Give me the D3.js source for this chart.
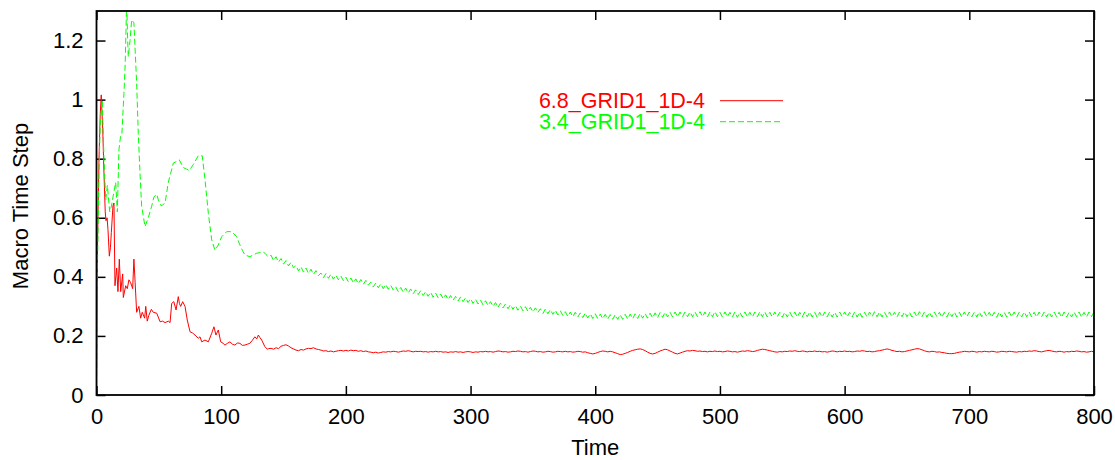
<!DOCTYPE html>
<html>
<head>
<meta charset="utf-8">
<script src="https://cdn.jsdelivr.net/npm/d3@7"></script>
<style>
body { margin: 0; background: #fff; }
text { font-family: "Liberation Sans", Arial, sans-serif; font-size: 22px; fill: #000; }
</style>
</head>
<body>
<svg id="chart"></svg>
<script>
// axis ticks
var xTicks = [0, 100, 200, 300, 400, 500, 600, 700, 800];
var yTicks = [0, 0.2, 0.4, 0.6, 0.8, 1, 1.2];
var yTickLabels = ["0", "0.2", "0.4", "0.6", "0.8", "1", "1.2"];

var seriesNames = ["6.8_GRID1_1D-4", "3.4_GRID1_1D-4"];

// start-up transient, [time, step]
var redEarly = [[0,0],[0.8,0.5],[2,0.8],[3,0.95],[3.8,1.016],[5,0.9],[6,0.75],[7,0.62],[7.6,0.59],[8.5,0.6],[9.2,0.56],
  [10.3,0.47],[11.2,0.5],[11.9,0.55],[13.2,0.64],[14,0.65],[14.8,0.37],[16.2,0.43],[17.2,0.35],[18.3,0.46],[19.4,0.35],
  [21,0.41],[21.5,0.33],[23.4,0.37],[24.7,0.36],[26,0.39],[27.4,0.38],[29,0.36],[30,0.46],[31,0.38],[32.2,0.28],[34,0.3],
  [35.4,0.26],[36.7,0.28],[38.6,0.26],[39.5,0.3],[40.7,0.25],[42,0.27],[44,0.29],[45.5,0.28],[48.3,0.277],[51,0.248],
  [53,0.25],[55,0.245],[57.6,0.25],[59,0.245],[60.3,0.31],[62,0.316],[63.8,0.288],[65.6,0.333],[66.5,0.31],[67.5,0.3],
  [69.1,0.316],[71,0.3],[72.8,0.254],[75,0.214],[77,0.21],[79,0.203],[81.6,0.192],[83,0.197],[84.4,0.18],[87,0.186],
  [89.7,0.18],[92.4,0.209],[94.2,0.231],[95.8,0.203],[97.7,0.22],[99.6,0.18],[101.5,0.175],[103,0.169],[105,0.175],
  [107,0.18],[109,0.172],[111,0.169],[113,0.176],[115,0.175],[117,0.168],[119,0.169],[121,0.172],[123,0.175],[125,0.185],
  [127,0.197],[128.5,0.19],[129.8,0.203],[131,0.195],[132.5,0.186],[135,0.164],[137,0.155],[138,0.157]];

var greenEarly = [[0,0],[0.8,0.45],[2,0.75],[3,0.92],[4.6,1.0],[6,0.8],[7.4,0.66],[8.7,0.71],[10.6,0.62],[12,0.64],
  [13.2,0.67],[15.4,0.72],[16.7,0.62],[18,0.83],[19.4,0.88],[20.4,0.886],[22,1.02],[23,1.12],[24.2,1.33],[25,1.2],
  [25.5,1.145],[26.9,1.2],[28.2,1.27],[30,1.26],[32.2,1.056],[33.5,0.886],[34.9,0.75],[36.2,0.64],[38.9,0.57],[41.5,0.6],
  [44.3,0.64],[46,0.67],[48.3,0.68],[49.6,0.66],[52,0.64],[55,0.65],[57.6,0.72],[61.6,0.785],[64,0.79],[66.4,0.796],
  [69.6,0.77],[72,0.765],[74.4,0.76],[77.6,0.78],[81.6,0.81],[84.8,0.81],[87,0.73],[89.7,0.615],[92.4,0.525],[95,0.49],
  [97.7,0.508],[100.4,0.536],[104.4,0.553],[108.4,0.553],[112.4,0.536],[115,0.508],[117,0.49],[119,0.474],[123,0.468],
  [126,0.475],[128.5,0.48],[131,0.482],[133.8,0.485],[136,0.475],[137.8,0.468]];

// steady part, one value every 2 time units from t=140 to t=800
var tailStart = 140, tailStep = 2;

var redTail = [
  .158,.155,.160,.157,.165,.168,.170,.166,.160,.156,
  .152,.150,.154,.152,.156,.158,.157,.160,.156,.154,
  .152,.149,.150,.147,.149,.146,.148,.150,.151,.149,
  .151,.149,.152,.150,.151,.148,.150,.147,.149,.146,
  .145,.143,.145,.142,.144,.146,.145,.147,.146,.148,
  .147,.145,.147,.149,.148,.150,.148,.146,.148,.147,
  .148,.146,.147,.145,.147,.146,.148,.146,.147,.145,
  .146,.144,.146,.145,.147,.145,.146,.144,.146,.147,
  .146,.144,.146,.145,.147,.146,.148,.146,.147,.145,
  .147,.149,.148,.146,.147,.145,.146,.148,.147,.149,
  .148,.146,.147,.145,.147,.149,.148,.146,.147,.145,
  .146,.148,.147,.145,.146,.148,.147,.146,.148,.146,
  .147,.145,.146,.148,.147,.145,.146,.143,.141,.139,
  .141,.144,.147,.149,.148,.146,.148,.146,.143,.140,
  .137,.138,.141,.144,.148,.151,.153,.155,.156,.154,
  .150,.145,.141,.139,.141,.145,.149,.152,.155,.153,
  .149,.145,.141,.139,.142,.145,.148,.150,.149,.151,
  .150,.148,.149,.147,.148,.146,.148,.147,.149,.147,
  .148,.146,.147,.149,.148,.146,.147,.145,.147,.149,
  .148,.150,.149,.147,.148,.151,.153,.155,.154,.152,
  .150,.148,.146,.145,.147,.146,.148,.147,.149,.148,
  .150,.148,.147,.149,.148,.146,.148,.147,.149,.147,
  .148,.146,.147,.145,.147,.149,.148,.146,.148,.147,
  .149,.147,.148,.146,.147,.149,.148,.150,.149,.147,
  .148,.146,.147,.149,.150,.152,.154,.156,.154,.151,
  .149,.147,.148,.146,.147,.149,.151,.153,.155,.157,
  .156,.153,.150,.147,.146,.148,.147,.145,.146,.144,
  .143,.141,.140,.140,.141,.143,.145,.146,.148,.147,
  .146,.148,.147,.145,.147,.146,.148,.147,.146,.148,
  .147,.145,.146,.148,.147,.146,.148,.147,.146,.145,
  .147,.146,.148,.147,.149,.148,.150,.149,.147,.146,
  .148,.150,.151,.149,.147,.146,.148,.147,.145,.147,
  .146,.148,.147,.149,.148,.146,.147,.145,.146,.148,
  .146];

var greenTail = [
  .473,.455,.468,.450,.462,.443,.455,.437,.449,.431,
  .438,.420,.434,.416,.430,.412,.426,.408,.421,.404,
  .413,.397,.411,.395,.409,.392,.406,.390,.403,.387,
  .399,.383,.396,.380,.393,.377,.391,.375,.388,.372,
  .382,.366,.379,.363,.376,.360,.374,.358,.371,.355,
  .366,.350,.364,.348,.362,.345,.359,.343,.356,.340,
  .353,.337,.350,.334,.348,.331,.345,.329,.342,.326,
  .339,.323,.337,.321,.334,.318,.332,.316,.329,.313,
  .326,.310,.324,.308,.321,.305,.319,.303,.316,.300,
  .313,.297,.311,.295,.308,.292,.306,.290,.303,.287,
  .301,.285,.299,.283,.297,.281,.295,.279,.292,.276,
  .291,.275,.289,.273,.287,.271,.285,.269,.282,.266,
  .281,.265,.280,.264,.278,.262,.277,.261,.275,.259,
  .275,.259,.274,.258,.273,.257,.272,.256,.272,.256,
  .272,.256,.273,.257,.274,.258,.275,.259,.276,.260,
  .276,.260,.277,.261,.278,.262,.279,.263,.280,.264,
  .280,.264,.281,.265,.281,.265,.281,.265,.281,.265,
  .281,.265,.282,.265,.281,.264,.281,.265,.282,.265,
  .280,.264,.281,.265,.280,.264,.281,.263,.280,.264,
  .281,.265,.280,.264,.281,.265,.282,.265,.281,.264,
  .280,.264,.281,.265,.280,.263,.280,.264,.281,.265,
  .281,.264,.280,.264,.281,.265,.281,.264,.280,.263,
  .280,.264,.281,.265,.281,.264,.280,.264,.281,.265,
  .281,.265,.280,.264,.281,.264,.280,.263,.280,.264,
  .281,.265,.282,.265,.281,.264,.280,.264,.281,.265,
  .280,.264,.281,.265,.281,.265,.280,.264,.281,.264,
  .282,.265,.281,.264,.280,.264,.281,.265,.280,.263,
  .280,.264,.281,.265,.281,.264,.280,.264,.281,.265,
  .281,.265,.280,.264,.281,.265,.282,.265,.280,.264,
  .280,.263,.281,.264,.280,.264,.281,.265,.281,.264,
  .280,.264,.281,.265,.281,.264,.280,.264,.281,.265,
  .281,.264,.280,.264,.281,.265,.280,.263,.281,.264,
  .280,.264,.281,.265,.281,.264,.280,.264,.281,.265,
  .281];

var width = 1115, height = 460;
var margin = {top: 11, right: 21, bottom: 65, left: 96.5};
var plotW = width - margin.left - margin.right;
var plotH = height - margin.top - margin.bottom;

function joinSeries(early, tail) {
    var pts = early.map(function (d) { return {t: d[0], v: d[1]}; });
    tail.forEach(function (v, i) {
        pts.push({t: tailStart + i * tailStep, v: v});
    });
    return pts;
}

var series = [
    {name: seriesNames[0], color: "#ff0000", dash: null, points: joinSeries(redEarly, redTail)},
    {name: seriesNames[1], color: "#00ff00", dash: "6,3", points: joinSeries(greenEarly, greenTail)}
];

var svg = d3.select("#chart").attr("width", width).attr("height", height);

var x = d3.scaleLinear().domain([0, 800]).range([0, plotW]);
var y = d3.scaleLinear().domain([0, 1.3]).range([plotH, 0]);

var g = svg.append("g").attr("transform", "translate(" + margin.left + "," + margin.top + ")");

g.append("clipPath").attr("id", "plotclip")
    .append("rect").attr("width", plotW).attr("height", plotH);

// axes with inward ticks, mirrored on top and right
var tickLen = 9;
var xAxis = g.append("g").attr("transform", "translate(0," + plotH + ")")
    .call(d3.axisBottom(x).tickValues(xTicks).tickSize(-tickLen).tickPadding(13.5).tickFormat(d3.format("d")));
var yAxis = g.append("g")
    .call(d3.axisLeft(y).tickValues(yTicks).tickSize(-tickLen).tickPadding(13)
        .tickFormat(function (d, i) { return yTickLabels[i]; }));
var xTop = g.append("g")
    .call(d3.axisTop(x).tickValues(xTicks).tickSize(-tickLen).tickFormat(""));
var yRight = g.append("g").attr("transform", "translate(" + plotW + ",0)")
    .call(d3.axisRight(y).tickValues(yTicks).tickSize(-tickLen).tickFormat(""));

[xAxis, yAxis, xTop, yRight].forEach(function (a) {
    a.select(".domain").remove();
    a.selectAll(".tick line").attr("stroke", "#000").attr("stroke-width", 1.5);
    a.selectAll("text").attr("font-size", null).attr("font-family", null).attr("fill", "#000");
});

var line = d3.line()
    .x(function (d) { return x(d.t); })
    .y(function (d) { return y(d.v); });

var lines = g.append("g").attr("clip-path", "url(#plotclip)");
lines.selectAll("path")
    .data(series)
    .enter()
    .append("path")
    .attr("fill", "none")
    .attr("stroke", function (d) { return d.color; })
    .attr("stroke-width", 1)
    .attr("stroke-dasharray", function (d) { return d.dash; })
    .attr("d", function (d) { return line(d.points); });

g.append("rect")
    .attr("width", plotW).attr("height", plotH)
    .attr("fill", "none").attr("stroke", "#000").attr("stroke-width", 1.8);

// legend
var legend = svg.append("g").selectAll("g")
    .data(series)
    .enter()
    .append("g")
    .attr("transform", function (d, i) { return "translate(0," + (100.7 + i * 21) + ")"; });

legend.append("text")
    .attr("x", 705)
    .attr("dy", "0.35em")
    .attr("text-anchor", "end")
    .style("font-size", "21.5px")
    .style("fill", function (d) { return d.color; })
    .text(function (d) { return d.name; });

legend.append("line")
    .attr("x1", 720).attr("x2", 783)
    .attr("stroke", function (d) { return d.color; })
    .attr("stroke-width", 1)
    .attr("stroke-dasharray", function (d) { return d.dash; });

// axis titles
svg.append("text")
    .attr("x", margin.left + plotW / 2)
    .attr("y", 455)
    .attr("text-anchor", "middle")
    .text("Time");

svg.append("text")
    .attr("transform", "translate(27.5," + (margin.top + plotH / 2 + 3) + ") rotate(-90)")
    .attr("text-anchor", "middle")
    .text("Macro Time Step");
</script>
</body>
</html>
